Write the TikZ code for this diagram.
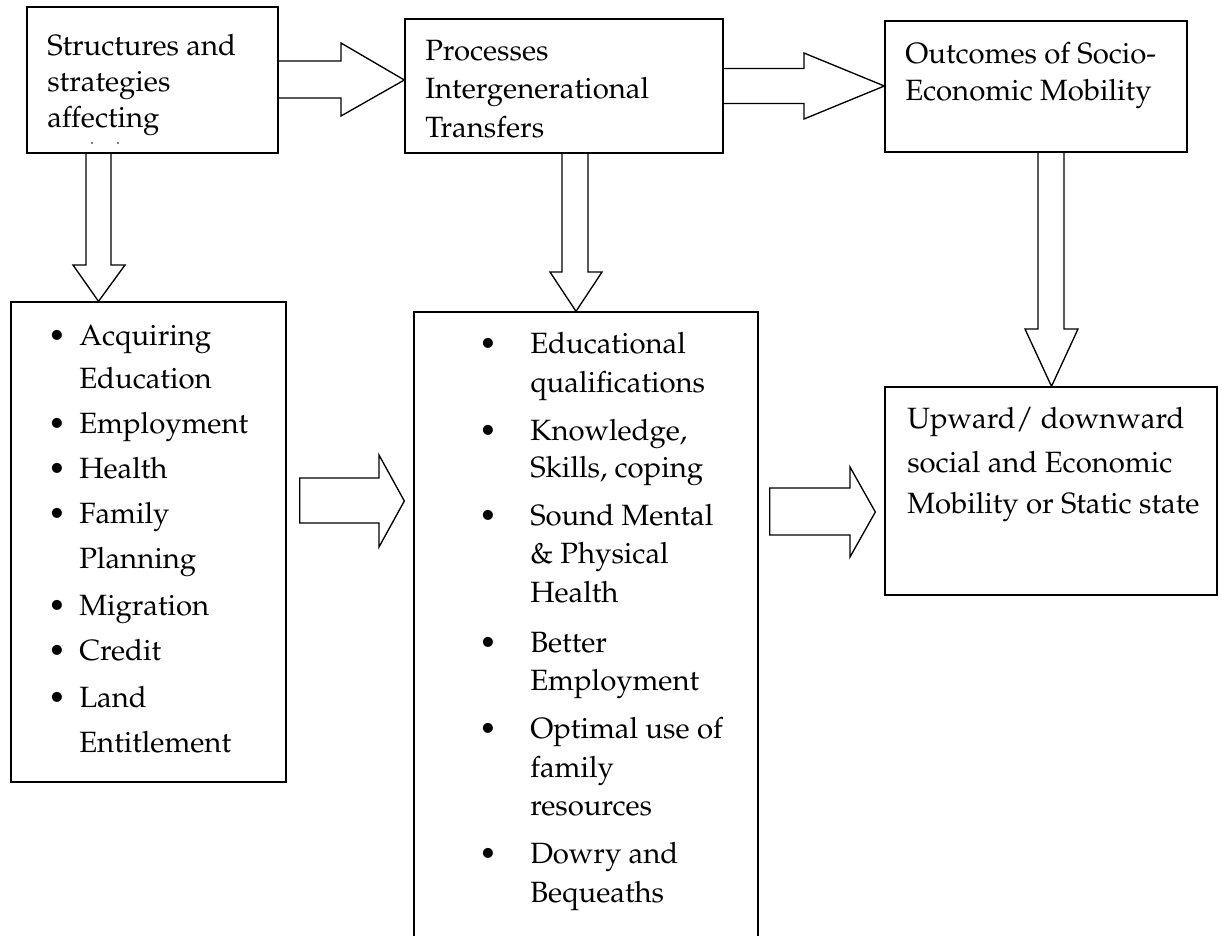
\documentclass[tikz,border=0pt]{standalone}
\usepackage[T1]{fontenc}
\usepackage{mathpazo}
\usetikzlibrary{calc}
\tikzset{
  box/.style={draw, line width=1pt, inner sep=0pt, rectangle},
  blk/.style={draw, line width=1pt, line join=miter},
  txt/.style={anchor=base west, inner sep=0pt, font=\fontsize{22}{26}\selectfont},
  bul/.style={anchor=base, inner sep=0pt, font=\fontsize{22}{26}\selectfont},
}
\begin{document}
\begin{tikzpicture}[x=0.75pt,y=-0.75pt]
\useasboundingbox (0,0) rectangle (1222,936);
\clip (0,0) rectangle (1222,936);
\fill[white] (0,0) rectangle (1222,936);

% boxes
\node[box, minimum width=188.25pt, minimum height=109.5pt] (A) at (152.5,80) {};
\node[box, minimum width=238.5pt, minimum height=100.5pt] (B) at (564,86) {};
\node[box, minimum width=226.5pt, minimum height=98.25pt] (C) at (1036,86.5) {};
\node[box, minimum width=249pt, minimum height=156pt] (D) at (1051,491) {};
\node[box, minimum width=206.25pt, minimum height=360pt] (E) at (148.5,542) {};
\node[box, minimum width=258pt, minimum height=474.75pt] (F) at (586,628.5) {};

% block arrows
\draw[blk] (A.east |- 0,61) -- (341,61) -- (341,43) -- (B.west |- 0,80)
  -- (341,116) -- (341,98) -- (A.east |- 0,98);
\draw[blk] (B.east |- 0,68.5) -- (804,68.5) -- (804,53) -- (C.west |- 0,86)
  -- (804,119) -- (804,103.5) -- (B.east |- 0,103.5);
\draw[blk] ($(E.east |- 0,478)+(13,0)$) -- (379,478) -- (379,455)
  -- ($(F.west |- 0,501)+(-9,0)$) -- (379,547) -- (379,523)
  -- ($(E.east |- 0,523)+(13,0)$) -- cycle;
\draw[blk] ($(F.east |- 0,488)+(11,0)$) -- (850,488) -- (850,467)
  -- ($(D.west |- 0,512)+(-9,0)$) -- (850,557) -- (850,535)
  -- ($(F.east |- 0,535)+(11,0)$) -- cycle;
\draw[blk] (A.south -| 86,0) -- (86,265) -- (73,265) -- (E.north -| 98.5,0)
  -- (125,265) -- (111,265) -- (A.south -| 111,0);
\draw[blk] (B.south -| 562,0) -- (562,272) -- (550,272) -- (F.north -| 576,0)
  -- (602,272) -- (588,272) -- (B.south -| 588,0);
\draw[blk] (C.south -| 1038,0) -- (1038,329) -- (1025,329) -- (D.north -| 1051.5,0)
  -- (1078,329) -- (1064,329) -- (C.south -| 1064,0);

% texts of the top boxes
\foreach \y/\tx [count=\i] in {55/Structures and, 91/strategies, 127/affecting}
  \node[txt] (ta\i) at (47,\y) {\tx};
\fill (92,143) circle (0.9) (118,143) circle (0.9);
\foreach \y/\tx [count=\i] in {60/Processes, 98/Intergenerational, 137/Transfers}
  \node[txt] (tb\i) at (425,\y) {\tx};
\foreach \y/\tx [count=\i] in {63/Outcomes of Socio-, 100/Economic Mobility}
  \node[txt] (tc\i) at (905,\y) {\tx};
\foreach \y/\tx [count=\i] in {428/{Upward/ downward}, 472/social and Economic, 513/Mobility or Static state}
  \node[txt] (td\i) at (907,\y) {\tx};

% left list
\foreach \y/\tx [count=\i] in {345/Acquiring, 388/Education, 433/Employment, 478/Health,
    523/Family, 568/Planning, 615/Migration, 660/Credit, 707/Land, 752/Entitlement}
  \node[txt] (te\i) at (79,\y) {\tx};
\foreach \y [count=\i] in {345,433,478,523,615,660,707}
  \node[bul] (be\i) at (57,\y) {\textbullet};

% middle list
\foreach \y/\tx [count=\i] in {353/Educational, 392/qualifications, 440/{Knowledge,},
    477/{Skills, coping}, 525/Sound Mental, 563/{\& Physical}, 602/Health,
    652/Better, 690/Employment, 738/Optimal use of, 777/family, 815/resources,
    863/Dowry and, 902/Bequeaths}
  \node[txt] (tf\i) at (530,\y) {\tx};
\foreach \y [count=\i] in {353,440,525,652,738,863}
  \node[bul] (bf\i) at (488,\y) {\textbullet};
\end{tikzpicture}
\end{document}
